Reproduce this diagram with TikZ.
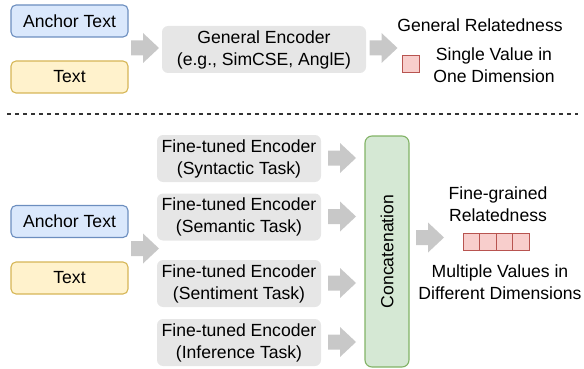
\documentclass[tikz,border=0pt]{standalone}
\usepackage{fontspec}
\setmainfont{Liberation Sans}
\begin{document}
\begin{tikzpicture}[x=1pt,y=-1pt,
  font=\fontsize{17.6}{22}\selectfont,
  inbox/.style={draw, line width=1.1pt, rounded corners=5pt, minimum width=117pt, minimum height=32pt, inner sep=0pt},
  bluebox/.style={inbox, fill=boxblue, draw=lineblue},
  yellowbox/.style={inbox, fill=boxyellow, draw=lineyellow},
  encbox/.style={fill=boxgray, rounded corners=6pt, minimum height=47pt, inner sep=0pt, align=center},
  cell/.style={draw=linered, fill=boxred, line width=1pt, minimum width=16.5pt, minimum height=17pt, inner sep=0pt},
  lbl/.style={align=center, inner sep=0pt},
  barrow/.pic={\fill[arrowgray] (-14,-7.5) -- (-2,-7.5) -- (-2,-15) -- (14,0) -- (-2,15) -- (-2,7.5) -- (-14,7.5) -- cycle;}
]
\definecolor{boxblue}{HTML}{DAE8FC}
\definecolor{lineblue}{HTML}{6C8EBF}
\definecolor{boxyellow}{HTML}{FFF2CC}
\definecolor{lineyellow}{HTML}{D6B656}
\definecolor{boxgreen}{HTML}{D5E8D4}
\definecolor{linegreen}{HTML}{82B366}
\definecolor{boxred}{HTML}{F8CECC}
\definecolor{linered}{HTML}{B85450}
\definecolor{boxgray}{HTML}{E6E6E6}
\definecolor{arrowgray}{HTML}{C8C8C8}
\definecolor{dashgray}{HTML}{333333}
\useasboundingbox (0,0) rectangle (584,369);

% ---- top part ----
\node[bluebox] (anc1) at (69.5,21) {Anchor Text};
\node[yellowbox] (txt1) at (69.5,77) {Text};
\pic at (145,48) {barrow};
\node[encbox, minimum width=204pt] (gen) at (264,49.5) {General Encoder\\(e.g., SimCSE, AnglE)};
\pic at (383.5,48) {barrow};
\node[lbl] (genrel) at (480,25) {General Relatedness};
\node[cell, minimum width=17pt] (single) at (410.5,64.5) {};
\node[lbl] (singletxt) at (494,65) {Single Value in\\One Dimension};

% ---- dashed separator ----
\coordinate (dl) at (7,114);
\coordinate (dr) at (578,114);
\draw[dashgray, line width=1.3pt, dash pattern=on 4pt off 4pt] (dl) -- (dr);

% ---- bottom part ----
\node[bluebox] (anc2) at (69.5,221.5) {Anchor Text};
\node[yellowbox] (txt2) at (69.5,278) {Text};
\pic at (145,248.5) {barrow};
\node[encbox, minimum width=164pt] (e1) at (239,158.5) {Fine-tuned Encoder\\(Syntactic Task)};
\node[encbox, minimum width=164pt] (e2) at (239,217) {Fine-tuned Encoder\\(Semantic Task)};
\node[encbox, minimum width=164pt] (e3) at (239,283.5) {Fine-tuned Encoder\\(Sentiment Task)};
\node[encbox, minimum width=164pt] (e4) at (239,342.5) {Fine-tuned Encoder\\(Inference Task)};
\pic at (342,158) {barrow};
\pic at (342,216.5) {barrow};
\pic at (342,283) {barrow};
\pic at (342,342) {barrow};
\node[draw=linegreen, fill=boxgreen, line width=1.1pt, rounded corners=7pt, minimum width=44pt, minimum height=231pt, inner sep=0pt] (concat) at (387,251.5) {};
\node[rotate=90, inner sep=0pt] (concattxt) at (concat.center) {Concatenation};
\pic at (430,237.5) {barrow};
\node[lbl] (finerel) at (498,204) {Fine-grained\\Relatedness};
\node[cell] (c1) at (471.25,241.5) {};
\node[cell] (c2) at (487.75,241.5) {};
\node[cell] (c3) at (504.25,241.5) {};
\node[cell] (c4) at (520.75,241.5) {};
\node[lbl] (multi) at (500,282.5) {Multiple Values in\\Different Dimensions};
\end{tikzpicture}
\end{document}
